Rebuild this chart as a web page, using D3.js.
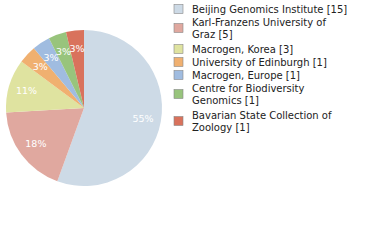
<!DOCTYPE html>
<html lang="en">
<head>
<meta charset="UTF-8">
<title>Chart</title>
<style>
  body { margin: 0; background: #fff; }
  svg { display: block; }
</style>
</head>
<body>
<script src="https://d3js.org/d3.v7.min.js"></script>
<div id="my_dataviz"></div>
<script>
// data
var labels = ["Beijing Genomics Institute [15]", "Karl-Franzens University of|Graz [5]",
  "Macrogen, Korea [3]", "University of Edinburgh [1]", "Macrogen, Europe [1]",
  "Centre for Biodiversity|Genomics [1]", "Bavarian State Collection of|Zoology [1]"];
var counts = [15, 5, 3, 1, 1, 1, 1];
var colors = ["#cddae6", "#e0a89f", "#dfe3a0", "#f0b070", "#a0bce0", "#98c47c", "#d9725c"];

var width = 380, height = 240;
var cx = 84, cy = 108, radius = 78;

var svg = d3.select("#my_dataviz")
  .append("svg")
  .attr("width", width)
  .attr("height", height);

var total = d3.sum(counts);
var pie = d3.pie().sort(null).value(function(d) { return d; });
var arcs = pie(counts);
var arc = d3.arc().innerRadius(0).outerRadius(radius);
var labelArc = d3.arc().innerRadius(60).outerRadius(60);

var g = svg.append("g").attr("transform", "translate(" + cx + "," + cy + ")");

g.selectAll("path")
  .data(arcs)
  .enter()
  .append("path")
  .attr("d", arc)
  .attr("fill", function(d, i) { return colors[i]; });

// percentages are truncated, not rounded
g.selectAll("text")
  .data(arcs)
  .enter()
  .append("text")
  .attr("transform", function(d) { return "translate(" + labelArc.centroid(d) + ")"; })
  .attr("text-anchor", "middle")
  .attr("dy", "0.35em")
  .style("font-family", "DejaVu Sans")
  .style("font-size", "9.5px")
  .style("fill", "#fff")
  .text(function(d) { return Math.floor(d.data / total * 100) + "%"; });

// legend
var rows = [9, 22, 49, 62, 75, 88, 115];
var legend = svg.append("g");
var item = legend.selectAll("g")
  .data(labels)
  .enter()
  .append("g")
  .attr("transform", function(d, i) { return "translate(0," + rows[i] + ")"; });

item.append("rect")
  .attr("x", 174)
  .attr("y", function(d) { return d.indexOf("|") >= 0 ? 1.5 : -4.5; })
  .attr("width", 9)
  .attr("height", 9)
  .attr("fill", function(d, i) { return colors[i]; })
  .attr("stroke", "#888")
  .attr("stroke-width", 0.6);

item.selectAll("text")
  .data(function(d) { return d.split("|"); })
  .enter()
  .append("text")
  .attr("x", 192)
  .attr("y", function(d, j) { return j * 12; })
  .attr("dy", "0.35em")
  .style("font-family", "DejaVu Sans")
  .style("font-size", "10px")
  .style("fill", "#222")
  .text(function(d) { return d; });
</script>
</body>
</html>
